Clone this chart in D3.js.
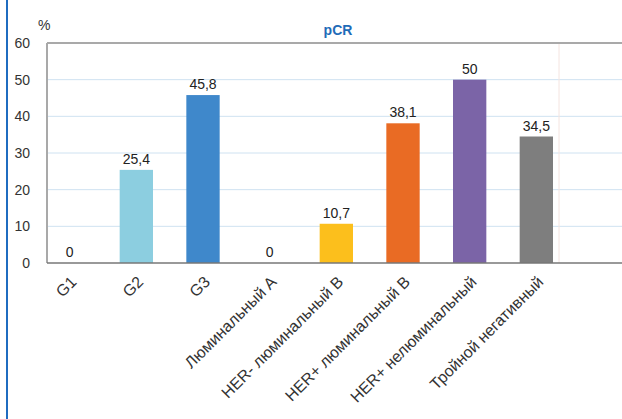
<!DOCTYPE html>
<html>
<head>
<meta charset="utf-8">
<script src="https://cdn.jsdelivr.net/npm/d3@7"></script>
<style>
  html, body { margin: 0; padding: 0; background: #fff; }
  svg { display: block; }
  text { font-family: "Liberation Sans", Arial, sans-serif; }
</style>
</head>
<body>
<svg id="chart" width="622" height="419"></svg>
<script>
// pCR by tumour grade and molecular subtype
const categories = ["G1", "G2", "G3", "Люминальный А", "HER- люминальный В",
                    "HER+ люминальный В", "HER+ нелюминальный", "Тройной негативный"];
const values = [0, 25.4, 45.8, 0, 10.7, 38.1, 50, 34.5];
const colors = ["#8ccee0", "#8ccee0", "#3f88cb", "#8ccee0", "#fcbf1c",
                "#e96b24", "#7b64a7", "#7e7e7e"];
const yTicks = [0, 10, 20, 30, 40, 50, 60];

const W = 622, H = 419;
const plotLeft = 47, plotTop = 43, plotBottom = 263, plotRight = 622;

const svg = d3.select("#chart");

const x = d3.scaleBand()
  .domain(categories)
  .range([plotLeft, 559])
  .paddingInner(0.5)
  .paddingOuter(0.09);

const y = d3.scaleLinear().domain([0, 60]).range([plotBottom, plotTop]);

const fmt = v => d3.format(".3~g")(v).replace(".", ",");

// page margin rule
svg.append("rect")
  .attr("x", 6).attr("y", 0).attr("width", 2).attr("height", H)
  .attr("fill", "#1f6cc0");

// horizontal gridlines
svg.append("g")
  .selectAll("line")
  .data(yTicks.filter(t => t > 0 && t < 60))
  .join("line")
  .attr("x1", plotLeft).attr("x2", plotRight)
  .attr("y1", d => y(d)).attr("y2", d => y(d))
  .attr("stroke", "#cfe2f1").attr("stroke-width", 1);

// faint end of plot range
svg.append("line")
  .attr("x1", x.range()[1]).attr("x2", x.range()[1])
  .attr("y1", plotTop).attr("y2", plotBottom)
  .attr("stroke", "#f4e4e0").attr("stroke-width", 1);

// plot frame
svg.append("line")
  .attr("x1", plotLeft).attr("x2", plotRight).attr("y1", plotTop).attr("y2", plotTop)
  .attr("stroke", "#a9a9a9").attr("stroke-width", 2);
svg.append("line")
  .attr("x1", plotLeft).attr("x2", plotLeft).attr("y1", plotTop).attr("y2", plotBottom)
  .attr("stroke", "#a9a9a9").attr("stroke-width", 2);

// bars
svg.append("g")
  .selectAll("rect")
  .data(values)
  .join("rect")
  .attr("x", (d, i) => x(categories[i]))
  .attr("width", x.bandwidth())
  .attr("y", d => y(d))
  .attr("height", d => y(0) - y(d))
  .attr("fill", (d, i) => colors[i]);

// x axis baseline
svg.append("line")
  .attr("x1", plotLeft).attr("x2", plotRight).attr("y1", plotBottom).attr("y2", plotBottom)
  .attr("stroke", "#777").attr("stroke-width", 1.5);

// value labels
svg.append("g")
  .selectAll("text")
  .data(values)
  .join("text")
  .attr("x", (d, i) => x(categories[i]) + x.bandwidth() / 2)
  .attr("y", d => y(d) - 6)
  .attr("text-anchor", "middle")
  .attr("font-size", 14)
  .attr("fill", "#222")
  .text(d => fmt(d));

// y axis labels
const yAxis = d3.axisLeft(y).tickValues(yTicks).tickSize(0).tickPadding(17);
const gy = svg.append("g").attr("transform", `translate(${plotLeft},0)`).call(yAxis);
gy.select(".domain").remove();
gy.selectAll("text")
  .attr("font-size", 14)
  .attr("font-family", "Liberation Sans, Arial, sans-serif")
  .attr("fill", "#333");

// x axis labels, rotated
const xAxis = d3.axisBottom(x).tickSize(0).tickPadding(0);
const gx = svg.append("g").attr("transform", `translate(0,${plotBottom})`).call(xAxis);
gx.select(".domain").remove();
gx.selectAll("text")
  .attr("font-size", 16)
  .attr("font-family", "Liberation Sans, Arial, sans-serif")
  .attr("fill", "#333")
  .attr("text-anchor", "end")
  .attr("dy", null)
  .attr("transform", "translate(8,20) rotate(-45)");

// unit and title
svg.append("text")
  .attr("x", 38).attr("y", 30)
  .attr("font-size", 14)
  .attr("fill", "#333")
  .text("%");

svg.append("text")
  .attr("x", 338).attr("y", 35)
  .attr("text-anchor", "middle")
  .attr("font-size", 14)
  .attr("font-weight", "bold")
  .attr("fill", "#1f6cb8")
  .text("pCR");
</script>
</body>
</html>
